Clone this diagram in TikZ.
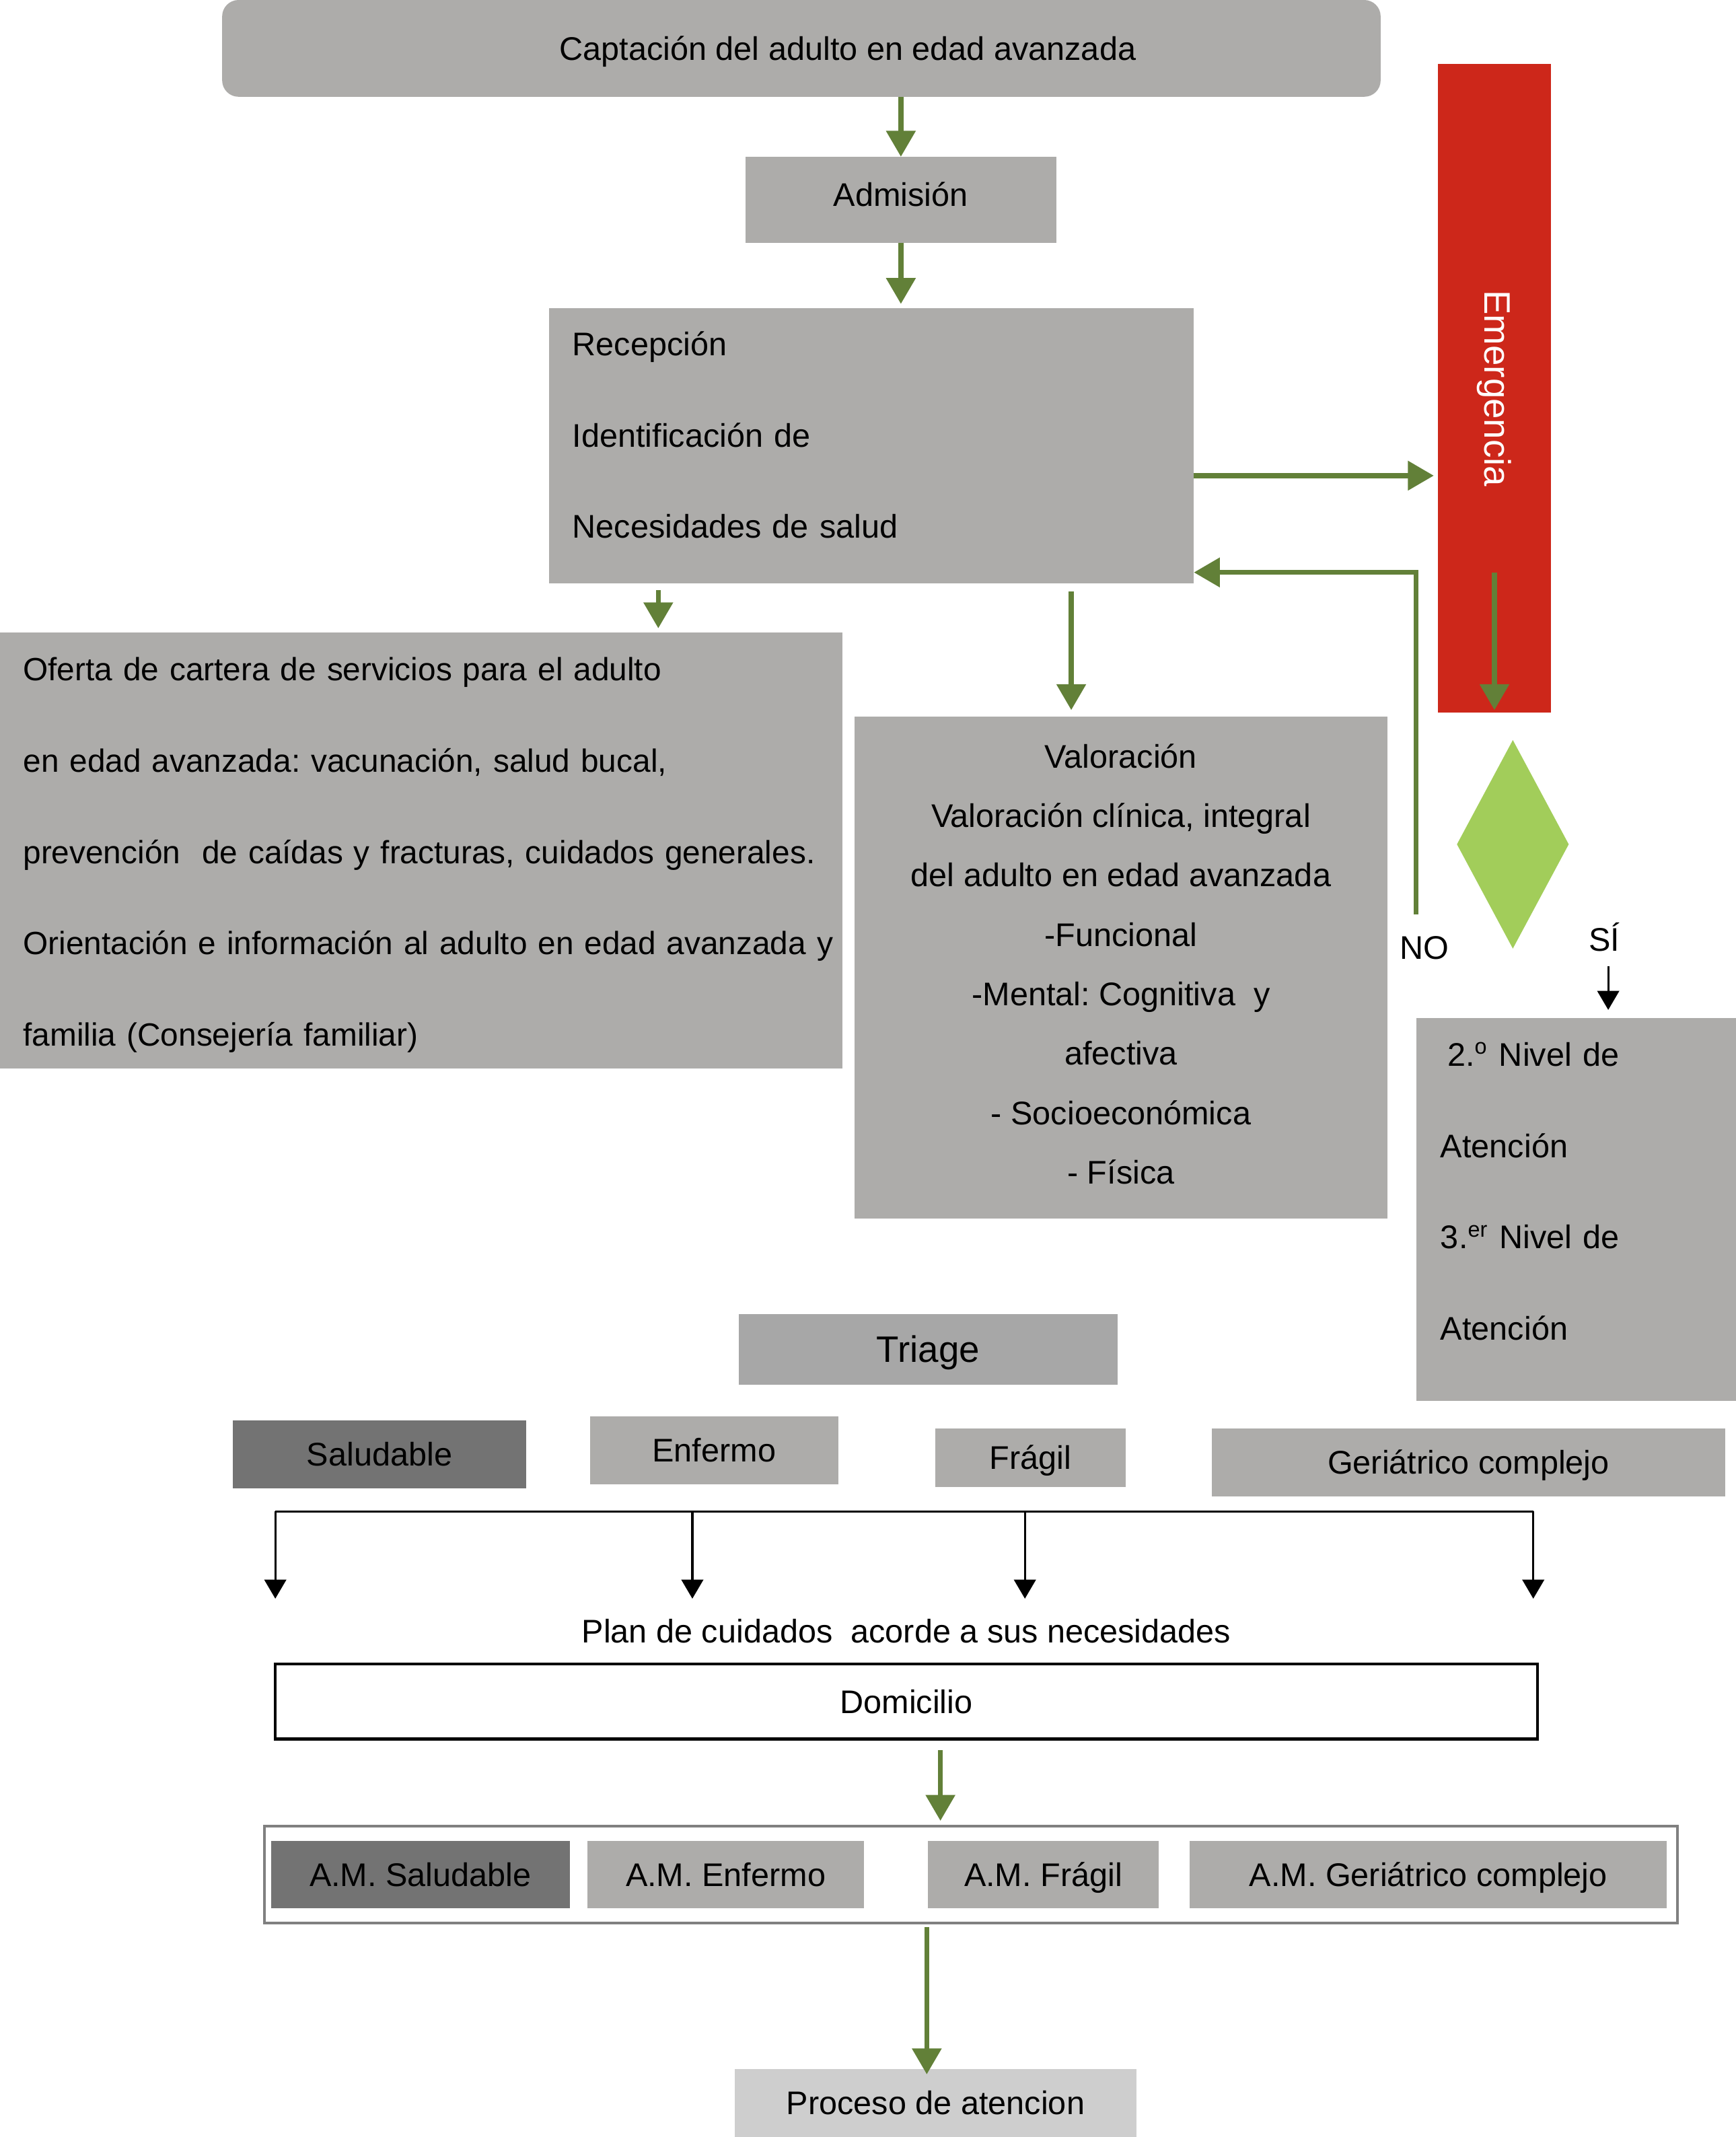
\documentclass[tikz,border=0pt]{standalone}
\usepackage{fontspec}
\usepackage{graphicx}
\setmainfont{Liberation Sans}
\usetikzlibrary{arrows.meta,shapes.geometric,calc}
\definecolor{boxgray}{RGB}{173,172,170}
\definecolor{trigray}{RGB}{167,167,167}
\definecolor{darkbox}{RGB}{115,115,115}
\definecolor{lightbox}{RGB}{206,206,206}
\definecolor{emred}{RGB}{205,39,26}
\definecolor{arrgreen}{RGB}{98,128,56}
\definecolor{diagreen}{RGB}{162,205,90}
\definecolor{framegray}{RGB}{128,128,128}
\begin{document}
\frenchspacing
\begin{tikzpicture}[x=0.5pt,y=-0.5pt,
  f12/.style={font=\fontsize{12pt}{14pt}\selectfont},
  one/.style={text height=8.6pt,text depth=0pt},
  box/.style={f12,fill=boxgray,inner sep=0pt,outer sep=0pt},
  darkcell/.style={box,one,fill=darkbox},
  cell/.style={box,one},
  lbl/.style={f12,one,inner sep=0pt,outer sep=0pt},
  garrow/.style={draw=arrgreen,line width=1.8pt,-{Triangle[length=9.5pt,width=10.5pt]}},
  barrow/.style={draw=black,line width=0.8pt,-{Triangle[length=7pt,width=8pt]}},
  bline/.style={draw=black,line width=0.8pt},
]
\useasboundingbox (0,0) rectangle (1273.7,1568);

% top chain
\node[cell,rounded corners=6pt,minimum width=425pt,minimum height=35.5pt] (cap) at (588,35.5) {\hspace*{34pt}Captación del adulto en edad avanzada};
\node[cell,minimum width=114pt,minimum height=31.5pt,text depth=4pt] (adm) at (661,146.5) {Admisión};
\node[box,minimum width=236.5pt,minimum height=101pt,align=left,text width=219.5pt,
      font=\fontsize{12pt}{33.5pt}\selectfont,text depth=75pt] (rec) at (639.5,327)
  {Recepción\\Identificación de\\Necesidades de salud};

% emergency branch
\node[box,fill=emred,text=white,minimum width=41.5pt,minimum height=238pt,
      font=\fontsize{13.5pt}{16pt}\selectfont] (emer) at (1096.5,285)
  {\rotatebox{-90}{Emergencia}};
\node[diamond,fill=diagreen,inner sep=0pt,outer sep=0pt,minimum width=41pt,minimum height=76.5pt] (dia) at (1110,619.5) {};
\node[lbl] (no) at (1045,695) {NO};
\node[lbl] (si) at (1177,689) {SÍ};
\coordinate (nobase) at (1039,671);
\coordinate (sitop) at (1180,709);
\node[box,minimum width=117.5pt,minimum height=140.5pt,align=left,text width=99.5pt,
      font=\fontsize{12pt}{33.5pt}\selectfont,text depth=114pt] (niv) at (1156.5,887.5)
  {\hspace*{2.5pt}2.\textsuperscript{o} Nivel de\\Atención\\3.\textsuperscript{er} Nivel de\\Atención};

% offer and assessment
\node[box,minimum width=309pt,minimum height=160pt,align=left,text width=292pt,
      font=\fontsize{11.8pt}{33.5pt}\selectfont,text depth=133pt] (ofe) at (309,624)
  {Oferta de cartera de servicios para el adulto\\
   en edad avanzada: vacunación, salud bucal,\\
   \mbox{prevención\ \ de caídas y fracturas, cuidados generales.}\\
   \mbox{Orientación e información al adulto en edad avanzada y}\\
   familia (Consejería familiar)};
\node[box,minimum width=195.5pt,minimum height=184pt,align=center,
      font=\fontsize{12pt}{21.8pt}\selectfont,text depth=2.75pt] (val) at (822.5,710)
  {Valoración\\Valoración clínica, integral\\del adulto en edad avanzada\\-Funcional\\
   -Mental: Cognitiva\ \ y\\afectiva\\- Socioeconómica\\- Física};

% triage
\node[box,fill=trigray,minimum width=139pt,minimum height=26pt,text height=9.7pt,text depth=0pt,
      font=\fontsize{13.5pt}{16pt}\selectfont] (tri) at (681,990) {Triage};
\node[darkcell,minimum width=107.5pt,minimum height=25pt] (sal) at (278.5,1067) {Saludable};
\node[cell,minimum width=91pt,minimum height=25pt] (enf) at (524,1064) {Enfermo};
\node[cell,minimum width=70pt,minimum height=21.5pt] (fra) at (756,1069.5) {Frágil};
\node[cell,minimum width=188.5pt,minimum height=25pt] (ger) at (1077.5,1073) {Geriátrico complejo};

% bracket
\coordinate (b1) at (202,1109);
\coordinate (b2) at (508,1109);
\coordinate (b3) at (752,1109);
\coordinate (b4) at (1125,1109);
\coordinate (e1) at (202,1173);
\coordinate (e2) at (508,1173);
\coordinate (e3) at (752,1173);
\coordinate (e4) at (1125,1173);
\draw[bline] (b1) -- (b4);
\draw[barrow] (b1) -- (e1);
\draw[barrow] (b2) -- (e2);
\draw[barrow] (b3) -- (e3);
\draw[barrow] (b4) -- (e4);

\node[lbl] (plan) at (665,1197) {Plan de cuidados\ \ acorde a sus necesidades};
\node[f12,one,draw=black,line width=1.1pt,fill=white,inner sep=0pt,minimum width=463pt,minimum height=27.5pt] (dom) at (665,1248.5) {Domicilio};

% A.M. row
\node[draw=framegray,line width=1pt,inner sep=0pt,minimum width=518.5pt,minimum height=35.5pt] (amb) at (712.5,1375.5) {};
\node[darkcell,minimum width=109.5pt,minimum height=24.5pt] (am1) at (308.5,1375.5) {A.M. Saludable};
\node[cell,minimum width=101.5pt,minimum height=24.5pt] (am2) at (532.5,1375.5) {A.M. Enfermo};
\node[cell,minimum width=84.5pt,minimum height=24.5pt] (am3) at (765.5,1375.5) {A.M. Frágil};
\node[cell,minimum width=175pt,minimum height=24.5pt] (am4) at (1048,1375.5) {A.M. Geriátrico complejo};

\node[cell,fill=lightbox,minimum width=147.5pt,minimum height=25pt] (pro) at (686.5,1543) {Proceso de atencion};

% green connectors
\draw[garrow] (adm.north |- cap.south) -- (adm.north);
\draw[garrow,shorten >=1.5pt] (adm.south) -- (adm.south |- rec.north);
\draw[garrow,shorten >=1.5pt] ([yshift=-11pt]rec.east) -- ([yshift=-11pt]rec.east -| emer.west);
\draw[garrow] (nobase) |- ([yshift=-46.5pt]rec.east);
\draw[garrow] ([yshift=51.5pt]emer.south) -- ([yshift=1pt]emer.south);
\draw[garrow,shorten >=1.5pt] ([xshift=-78.25pt,yshift=-2.5pt]rec.south) -- ([xshift=-78.25pt]rec.south |- ofe.north);
\draw[garrow,shorten >=2.5pt] ([xshift=73.25pt,yshift=-3pt]rec.south) -- ([xshift=73.25pt]rec.south |- val.north);
\draw[garrow,shorten >=1.5pt] ([xshift=12.5pt,yshift=-3.5pt]dom.south) -- ([xshift=12.5pt]dom.south |- amb.north);
\draw[garrow] ([xshift=-16.25pt,yshift=-1pt]amb.south) -- ([xshift=-16.25pt,yshift=-2pt]amb.south |- pro.north);

% black SI arrow
\draw[barrow,shorten >=3pt] (sitop) -- (sitop |- niv.north);
\end{tikzpicture}
\end{document}
